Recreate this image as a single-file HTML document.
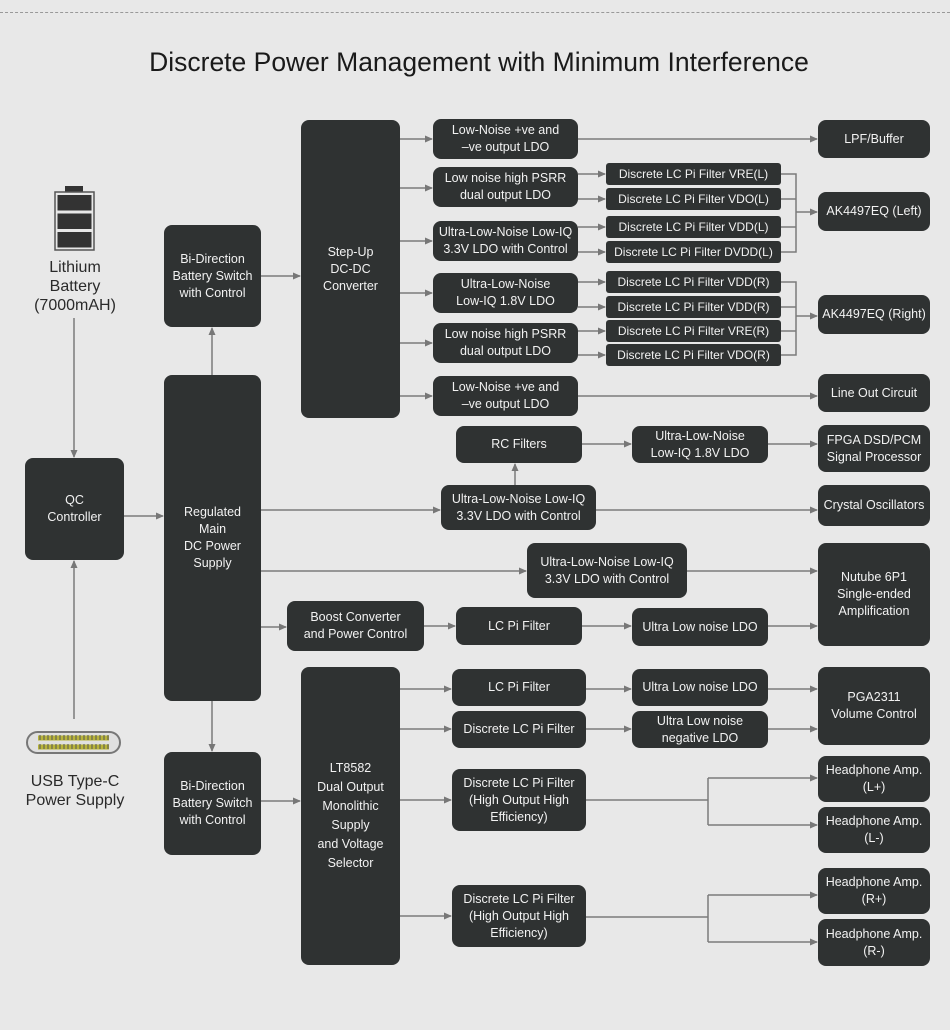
<!DOCTYPE html>
<html><head><meta charset="utf-8">
<style>
html,body{margin:0;padding:0;}
body{width:950px;height:1030px;background:#e8e8e8;position:relative;overflow:hidden;font-family:"Liberation Sans",sans-serif;}
.b{position:absolute;background:#2f3232;color:#f2f2f2;border-radius:8px;display:flex;align-items:center;justify-content:center;text-align:center;font-size:12.5px;line-height:17px;box-sizing:border-box;padding:0 2px;}
.f{border-radius:3px;font-size:12px;}
.t{position:absolute;text-align:center;color:#2a2a2a;font-size:16px;line-height:19px;}
svg{position:absolute;left:0;top:0;}
</style></head><body>
<div style="position:absolute;left:0;top:12px;width:950px;border-top:1px dashed #999;"></div>
<div style="position:absolute;left:0;top:47px;width:958px;text-align:center;font-size:26.5px;color:#1a1a1a;">Discrete Power Management with Minimum Interference</div>

<svg width="950" height="1030">
<defs><marker id="a" markerWidth="8" markerHeight="8" refX="7" refY="4" orient="auto" markerUnits="userSpaceOnUse"><path d="M0,0.5 L8,4 L0,7.5 z" fill="#777"/></marker></defs>
<g stroke="#7a7a7a" stroke-width="1.5" fill="none">
<line x1="74" y1="318" x2="74" y2="457" marker-end="url(#a)"/>
<line x1="74" y1="719" x2="74" y2="561" marker-end="url(#a)"/>
<line x1="124" y1="516" x2="163" y2="516" marker-end="url(#a)"/>
<line x1="212" y1="375" x2="212" y2="328" marker-end="url(#a)"/>
<line x1="212" y1="701" x2="212" y2="751" marker-end="url(#a)"/>
<line x1="261" y1="276" x2="300" y2="276" marker-end="url(#a)"/>
<line x1="261" y1="801" x2="300" y2="801" marker-end="url(#a)"/>
<line x1="400" y1="139" x2="432" y2="139" marker-end="url(#a)"/>
<line x1="400" y1="188" x2="432" y2="188" marker-end="url(#a)"/>
<line x1="400" y1="241" x2="432" y2="241" marker-end="url(#a)"/>
<line x1="400" y1="293" x2="432" y2="293" marker-end="url(#a)"/>
<line x1="400" y1="343" x2="432" y2="343" marker-end="url(#a)"/>
<line x1="400" y1="396" x2="432" y2="396" marker-end="url(#a)"/>
<line x1="578" y1="139" x2="817" y2="139" marker-end="url(#a)"/>
<line x1="578" y1="396" x2="817" y2="396" marker-end="url(#a)"/>
<line x1="578" y1="174" x2="605" y2="174" marker-end="url(#a)"/>
<line x1="578" y1="199" x2="605" y2="199" marker-end="url(#a)"/>
<line x1="578" y1="227" x2="605" y2="227" marker-end="url(#a)"/>
<line x1="578" y1="252" x2="605" y2="252" marker-end="url(#a)"/>
<line x1="578" y1="282" x2="605" y2="282" marker-end="url(#a)"/>
<line x1="578" y1="307" x2="605" y2="307" marker-end="url(#a)"/>
<line x1="578" y1="331" x2="605" y2="331" marker-end="url(#a)"/>
<line x1="578" y1="355" x2="605" y2="355" marker-end="url(#a)"/>
<path d="M781,174 H796 V252 H781 M781,199 H796 M781,227 H796"/>
<path d="M781,282 H796 V355 H781 M781,307 H796 M781,331 H796"/>
<line x1="796" y1="212" x2="817" y2="212" marker-end="url(#a)"/>
<line x1="796" y1="316" x2="817" y2="316" marker-end="url(#a)"/>
<line x1="261" y1="510" x2="440" y2="510" marker-end="url(#a)"/>
<line x1="596" y1="510" x2="817" y2="510" marker-end="url(#a)"/>
<line x1="515" y1="485" x2="515" y2="464" marker-end="url(#a)"/>
<line x1="582" y1="444" x2="631" y2="444" marker-end="url(#a)"/>
<line x1="768" y1="444" x2="817" y2="444" marker-end="url(#a)"/>
<line x1="261" y1="571" x2="526" y2="571" marker-end="url(#a)"/>
<line x1="687" y1="571" x2="817" y2="571" marker-end="url(#a)"/>
<line x1="261" y1="627" x2="286" y2="627" marker-end="url(#a)"/>
<line x1="424" y1="626" x2="455" y2="626" marker-end="url(#a)"/>
<line x1="582" y1="626" x2="631" y2="626" marker-end="url(#a)"/>
<line x1="768" y1="626" x2="817" y2="626" marker-end="url(#a)"/>
<line x1="400" y1="689" x2="451" y2="689" marker-end="url(#a)"/>
<line x1="400" y1="729" x2="451" y2="729" marker-end="url(#a)"/>
<line x1="400" y1="800" x2="451" y2="800" marker-end="url(#a)"/>
<line x1="400" y1="916" x2="451" y2="916" marker-end="url(#a)"/>
<line x1="586" y1="689" x2="631" y2="689" marker-end="url(#a)"/>
<line x1="586" y1="729" x2="631" y2="729" marker-end="url(#a)"/>
<line x1="768" y1="689" x2="817" y2="689" marker-end="url(#a)"/>
<line x1="768" y1="729" x2="817" y2="729" marker-end="url(#a)"/>
<path d="M586,800 H708 V825 M708,778 V800"/>
<line x1="708" y1="778" x2="817" y2="778" marker-end="url(#a)"/>
<line x1="708" y1="825" x2="817" y2="825" marker-end="url(#a)"/>
<path d="M586,917 H708 V942 M708,895 V917"/>
<line x1="708" y1="895" x2="817" y2="895" marker-end="url(#a)"/>
<line x1="708" y1="942" x2="817" y2="942" marker-end="url(#a)"/>
</g>
<rect x="65" y="186" width="18" height="6" fill="#333"/>
<rect x="55" y="192" width="39" height="58" fill="none" stroke="#555" stroke-width="1.5"/>
<rect x="57.5" y="195" width="34" height="15.5" fill="#333"/>
<rect x="57.5" y="213.5" width="34" height="15.5" fill="#333"/>
<rect x="57.5" y="232" width="34" height="15.5" fill="#333"/>
<rect x="27" y="732" width="93" height="21" rx="10.5" fill="#e0e0e0" stroke="#777" stroke-width="2"/>
<rect x="38" y="735.5" width="71" height="5" fill="#b8b43a"/>
<rect x="38" y="744.5" width="71" height="5" fill="#b8b43a"/>
<g stroke="#555" stroke-width="1">
<path d="M40,735v5M44,735v5M48,735v5M52,735v5M56,735v5M60,735v5M64,735v5M68,735v5M72,735v5M76,735v5M80,735v5M84,735v5M88,735v5M92,735v5M96,735v5M100,735v5M104,735v5M108,735v5"/>
<path d="M40,744v5M44,744v5M48,744v5M52,744v5M56,744v5M60,744v5M64,744v5M68,744v5M72,744v5M76,744v5M80,744v5M84,744v5M88,744v5M92,744v5M96,744v5M100,744v5M104,744v5M108,744v5"/>
</g>
</svg>

<div class="t" style="left:15px;top:258px;width:120px;">Lithium<br>Battery<br>(7000mAH)</div>
<div class="t" style="left:10px;top:772px;width:130px;">USB Type-C<br>Power Supply</div>

<div class="b" style="left:25px;top:458px;width:99px;height:102px;">QC<br>Controller</div>
<div class="b" style="left:164px;top:225px;width:97px;height:102px;">Bi-Direction<br>Battery Switch<br>with Control</div>
<div class="b" style="left:164px;top:375px;width:97px;height:326px;">Regulated<br>Main<br>DC Power<br>Supply</div>
<div class="b" style="left:164px;top:752px;width:97px;height:103px;">Bi-Direction<br>Battery Switch<br>with Control</div>
<div class="b" style="left:301px;top:120px;width:99px;height:298px;">Step-Up<br>DC-DC<br>Converter</div>
<div class="b" style="left:301px;top:667px;width:99px;height:298px;line-height:19px;">LT8582<br>Dual Output<br>Monolithic<br>Supply<br>and Voltage<br>Selector</div>

<div class="b" style="left:433px;top:119px;width:145px;height:40px;">Low-Noise +ve and<br>–ve output LDO</div>
<div class="b" style="left:433px;top:167px;width:145px;height:40px;">Low noise high PSRR<br>dual output LDO</div>
<div class="b" style="left:433px;top:221px;width:145px;height:40px;">Ultra-Low-Noise Low-IQ<br>3.3V LDO with Control</div>
<div class="b" style="left:433px;top:273px;width:145px;height:40px;">Ultra-Low-Noise<br>Low-IQ 1.8V LDO</div>
<div class="b" style="left:433px;top:323px;width:145px;height:40px;">Low noise high PSRR<br>dual output LDO</div>
<div class="b" style="left:433px;top:376px;width:145px;height:40px;">Low-Noise +ve and<br>–ve output LDO</div>

<div class="b f" style="left:606px;top:163px;width:175px;height:22px;">Discrete LC Pi Filter VRE(L)</div>
<div class="b f" style="left:606px;top:188px;width:175px;height:22px;">Discrete LC Pi Filter VDO(L)</div>
<div class="b f" style="left:606px;top:216px;width:175px;height:22px;">Discrete LC Pi Filter VDD(L)</div>
<div class="b f" style="left:606px;top:241px;width:175px;height:22px;">Discrete LC Pi Filter DVDD(L)</div>
<div class="b f" style="left:606px;top:271px;width:175px;height:22px;">Discrete LC Pi Filter VDD(R)</div>
<div class="b f" style="left:606px;top:296px;width:175px;height:22px;">Discrete LC Pi Filter VDD(R)</div>
<div class="b f" style="left:606px;top:320px;width:175px;height:22px;">Discrete LC Pi Filter VRE(R)</div>
<div class="b f" style="left:606px;top:344px;width:175px;height:22px;">Discrete LC Pi Filter VDO(R)</div>

<div class="b" style="left:818px;top:120px;width:112px;height:38px;">LPF/Buffer</div>
<div class="b" style="left:818px;top:192px;width:112px;height:39px;">AK4497EQ (Left)</div>
<div class="b" style="left:818px;top:295px;width:112px;height:39px;">AK4497EQ (Right)</div>
<div class="b" style="left:818px;top:374px;width:112px;height:38px;">Line Out Circuit</div>
<div class="b" style="left:818px;top:425px;width:112px;height:47px;">FPGA DSD/PCM<br>Signal Processor</div>
<div class="b" style="left:818px;top:485px;width:112px;height:41px;">Crystal Oscillators</div>
<div class="b" style="left:818px;top:543px;width:112px;height:103px;">Nutube 6P1<br>Single-ended<br>Amplification</div>
<div class="b" style="left:818px;top:667px;width:112px;height:78px;">PGA2311<br>Volume Control</div>
<div class="b" style="left:818px;top:756px;width:112px;height:46px;">Headphone Amp.<br>(L+)</div>
<div class="b" style="left:818px;top:807px;width:112px;height:46px;">Headphone Amp.<br>(L-)</div>
<div class="b" style="left:818px;top:868px;width:112px;height:46px;">Headphone Amp.<br>(R+)</div>
<div class="b" style="left:818px;top:919px;width:112px;height:47px;">Headphone Amp.<br>(R-)</div>

<div class="b" style="left:456px;top:426px;width:126px;height:37px;">RC Filters</div>
<div class="b" style="left:632px;top:426px;width:136px;height:37px;">Ultra-Low-Noise<br>Low-IQ 1.8V LDO</div>
<div class="b" style="left:441px;top:485px;width:155px;height:45px;">Ultra-Low-Noise Low-IQ<br>3.3V LDO with Control</div>
<div class="b" style="left:527px;top:543px;width:160px;height:55px;">Ultra-Low-Noise Low-IQ<br>3.3V LDO with Control</div>
<div class="b" style="left:287px;top:601px;width:137px;height:50px;">Boost Converter<br>and Power Control</div>
<div class="b" style="left:456px;top:607px;width:126px;height:38px;">LC Pi Filter</div>
<div class="b" style="left:632px;top:608px;width:136px;height:38px;">Ultra Low noise LDO</div>
<div class="b" style="left:452px;top:669px;width:134px;height:37px;">LC Pi Filter</div>
<div class="b" style="left:452px;top:711px;width:134px;height:37px;">Discrete LC Pi Filter</div>
<div class="b" style="left:632px;top:669px;width:136px;height:37px;">Ultra Low noise LDO</div>
<div class="b" style="left:632px;top:711px;width:136px;height:37px;">Ultra Low noise<br>negative LDO</div>
<div class="b" style="left:452px;top:769px;width:134px;height:62px;">Discrete LC Pi Filter<br>(High Output High<br>Efficiency)</div>
<div class="b" style="left:452px;top:885px;width:134px;height:62px;">Discrete LC Pi Filter<br>(High Output High<br>Efficiency)</div>
</body></html>
